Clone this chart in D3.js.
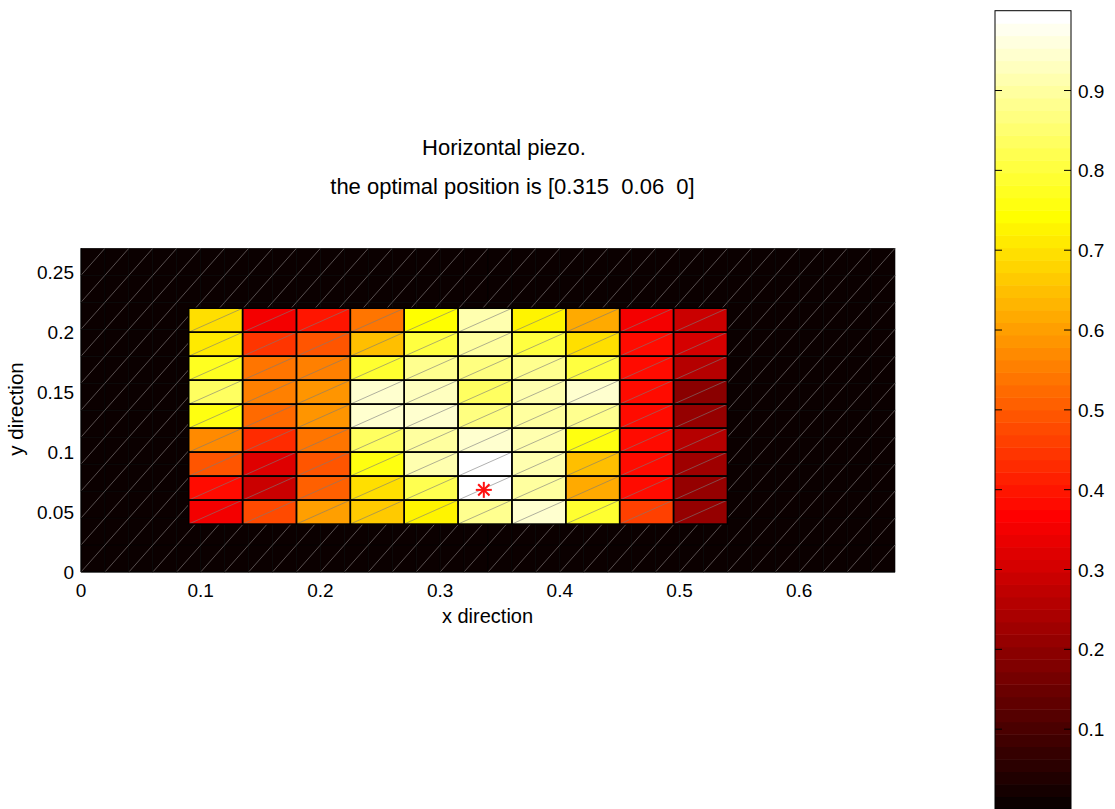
<!DOCTYPE html>
<html>
<head>
<meta charset="utf-8">
<script src="https://cdn.jsdelivr.net/npm/d3@7"></script>
<style>
  body { margin: 0; background: #fff; }
  text { font-family: "Liberation Sans", Arial, Helvetica, sans-serif; fill: #000; }
</style>
</head>
<body>
<div id="chart"></div>
<script>
var width = 1115,
  height = 809;

// plate and piezo geometry (m)
var plateX = [0, 0.68],
  plateY = [0, 0.27];
var plateDx = 0.02,
  plateDy = 0.0225;

var pzXEdges = [0.09, 0.135, 0.18, 0.225, 0.27, 0.315, 0.36, 0.405, 0.45, 0.495, 0.54];
var pzYEdges = [0.22, 0.2, 0.18, 0.16, 0.14, 0.12, 0.1, 0.08, 0.06, 0.04]; // top to bottom

// normalised sensitivity of each piezo element, rows from top (y=0.22) to bottom
var row1 = [0.69, 0.35, 0.40, 0.54, 0.74, 0.91, 0.73, 0.61, 0.35, 0.29];
var row2 = [0.71, 0.45, 0.49, 0.65, 0.81, 0.90, 0.80, 0.69, 0.38, 0.31];
var row3 = [0.78, 0.54, 0.55, 0.79, 0.89, 0.87, 0.88, 0.80, 0.39, 0.26];
var row4 = [0.84, 0.55, 0.59, 0.94, 0.93, 0.83, 0.92, 0.94, 0.39, 0.19];
var row5 = [0.76, 0.53, 0.59, 0.94, 0.95, 0.87, 0.90, 0.88, 0.39, 0.21];
var row6 = [0.57, 0.43, 0.54, 0.83, 0.90, 0.94, 0.92, 0.76, 0.39, 0.25];
var row7 = [0.49, 0.32, 0.49, 0.76, 0.91, 1.00, 0.91, 0.65, 0.38, 0.22];
var row8 = [0.39, 0.29, 0.50, 0.69, 0.82, 0.99, 0.90, 0.62, 0.38, 0.21];
var row9 = [0.35, 0.48, 0.60, 0.66, 0.73, 0.88, 0.94, 0.79, 0.46, 0.21];
var rows = [row1, row2, row3, row4, row5, row6, row7, row8, row9];

var optimal = [0.315, 0.06, 0];

var xTicks = [0, 0.1, 0.2, 0.3, 0.4, 0.5, 0.6];
var yTicks = [0, 0.05, 0.1, 0.15, 0.2, 0.25];
var cbTicks = [0.1, 0.2, 0.3, 0.4, 0.5, 0.6, 0.7, 0.8, 0.9];
var cRange = [0, 1];

// matlab "hot" with 64 entries
function hot(v) {
  var m = 64, n = 24;
  var t = (v - cRange[0]) / (cRange[1] - cRange[0]);
  var i = Math.max(1, Math.min(m, Math.floor(t * m) + 1));
  var r = Math.min(i / n, 1),
    g = Math.max(0, Math.min((i - n) / n, 1)),
    b = Math.max(0, Math.min((i - 2 * n) / (m - 2 * n), 1));
  return d3.rgb(r * 255, g * 255, b * 255).toString();
}

var svg = d3.select("#chart").append("svg")
  .attr("width", width)
  .attr("height", height);

var x = d3.scaleLinear().domain(plateX).range([81, 895]);
var y = d3.scaleLinear().domain(plateY).range([572, 248.3]);

// plate mesh (all zero)
var plateCells = [];
d3.range(plateX[0], plateX[1] - 1e-9, plateDx).forEach(function (x0) {
  d3.range(plateY[0], plateY[1] - 1e-9, plateDy).forEach(function (y0) {
    plateCells.push({ x0: x0, x1: x0 + plateDx, y0: y0, y1: y0 + plateDy, v: 0 });
  });
});

var plate = svg.append("g");
plate.selectAll("rect").data(plateCells).enter().append("rect")
  .attr("x", d => x(d.x0))
  .attr("y", d => y(d.y1))
  .attr("width", d => x(d.x1) - x(d.x0))
  .attr("height", d => y(d.y0) - y(d.y1))
  .attr("fill", d => hot(d.v))
  .attr("stroke", "#000")
  .attr("stroke-width", 0.6);
plate.selectAll("line").data(plateCells).enter().append("line")
  .attr("x1", d => x(d.x0)).attr("y1", d => y(d.y0))
  .attr("x2", d => x(d.x1)).attr("y2", d => y(d.y1))
  .attr("stroke", "#8c8484")
  .attr("stroke-width", 0.6);

// piezo elements
var pzCells = [];
rows.forEach(function (r, j) {
  r.forEach(function (v, i) {
    pzCells.push({ x0: pzXEdges[i], x1: pzXEdges[i + 1], y1: pzYEdges[j], y0: pzYEdges[j + 1], v: v });
  });
});

var pz = svg.append("g");
pz.selectAll("rect").data(pzCells).enter().append("rect")
  .attr("x", d => x(d.x0))
  .attr("y", d => y(d.y1))
  .attr("width", d => x(d.x1) - x(d.x0))
  .attr("height", d => y(d.y0) - y(d.y1))
  .attr("fill", d => hot(d.v));
pz.selectAll("line.diag").data(pzCells).enter().append("line")
  .attr("class", "diag")
  .attr("x1", d => x(d.x0)).attr("y1", d => y(d.y0))
  .attr("x2", d => x(d.x1)).attr("y2", d => y(d.y1))
  .attr("stroke", "#7a7a7a")
  .attr("stroke-width", 0.6);
pz.selectAll("rect.edge").data(pzCells).enter().append("rect")
  .attr("class", "edge")
  .attr("x", d => x(d.x0))
  .attr("y", d => y(d.y1))
  .attr("width", d => x(d.x1) - x(d.x0))
  .attr("height", d => y(d.y0) - y(d.y1))
  .attr("fill", "none")
  .attr("stroke", "#000")
  .attr("stroke-width", 1.5);

// optimal element marker, near its centre
var sx = x(optimal[0] + 0.0215),
  sy = y(optimal[1] + 0.0085),
  sr = 8;
var star = svg.append("g").attr("transform", "translate(" + sx + "," + sy + ")")
  .attr("stroke", "#ff1010").attr("stroke-width", 2);
[0, 45, 90, 135].forEach(function (a) {
  var rad = a * Math.PI / 180;
  star.append("line")
    .attr("x1", -sr * Math.cos(rad)).attr("y1", -sr * Math.sin(rad))
    .attr("x2", sr * Math.cos(rad)).attr("y2", sr * Math.sin(rad));
});

// axes
svg.append("line").attr("x1", 81).attr("x2", 81).attr("y1", 248.3).attr("y2", 572).attr("stroke", "#000");
svg.append("line").attr("x1", 81).attr("x2", 895).attr("y1", 572).attr("y2", 572).attr("stroke", "#000");

svg.append("g").selectAll("text").data(xTicks).enter().append("text")
  .attr("x", d => x(d))
  .attr("y", 597)
  .attr("text-anchor", "middle")
  .style("font-size", "19px")
  .text(d => d);

svg.append("g").selectAll("text").data(yTicks).enter().append("text")
  .attr("x", 74)
  .attr("y", d => y(d) + 7)
  .attr("text-anchor", "end")
  .style("font-size", "19px")
  .text(d => d);

svg.append("text")
  .attr("x", 487.5).attr("y", 622.7)
  .attr("text-anchor", "middle")
  .style("font-size", "20px")
  .text("x direction");

svg.append("text")
  .attr("transform", "translate(23,409) rotate(-90)")
  .attr("text-anchor", "middle")
  .style("font-size", "20.5px")
  .text("y direction");

svg.append("text")
  .attr("x", 504).attr("y", 155)
  .attr("text-anchor", "middle")
  .style("font-size", "22px")
  .text("Horizontal piezo.");

svg.append("text")
  .attr("x", 512.5).attr("y", 194)
  .attr("text-anchor", "middle")
  .style("font-size", "22px")
  .style("white-space", "pre")
  .attr("xml:space", "preserve")
  .text("the optimal position is [" + optimal[0] + "  " + optimal[1] + "  " + optimal[2] + "]");

// colorbar
var cbX0 = 995, cbX1 = 1071;
var cb = d3.scaleLinear().domain(cRange).range([809, 10.7]);
var bands = d3.range(64);
svg.append("g").selectAll("rect").data(bands).enter().append("rect")
  .attr("x", cbX0)
  .attr("width", cbX1 - cbX0)
  .attr("y", d => cb((d + 1) / 64))
  .attr("height", d => cb(d / 64) - cb((d + 1) / 64) + 0.5)
  .attr("fill", d => hot((d + 0.5) / 64));
svg.append("rect")
  .attr("x", cbX0).attr("y", cb(1))
  .attr("width", cbX1 - cbX0).attr("height", cb(0) - cb(1))
  .attr("fill", "none").attr("stroke", "#000");

var cbt = svg.append("g").selectAll("g").data(cbTicks).enter().append("g")
  .attr("transform", d => "translate(0," + cb(d) + ")");
cbt.append("line").attr("x1", cbX0).attr("x2", cbX0 + 7).attr("stroke", "#000");
cbt.append("line").attr("x1", cbX1 - 7).attr("x2", cbX1).attr("stroke", "#000");
cbt.append("text")
  .attr("x", 1078)
  .attr("y", 7)
  .style("font-size", "19px")
  .text(d => d);
</script>
</body>
</html>
